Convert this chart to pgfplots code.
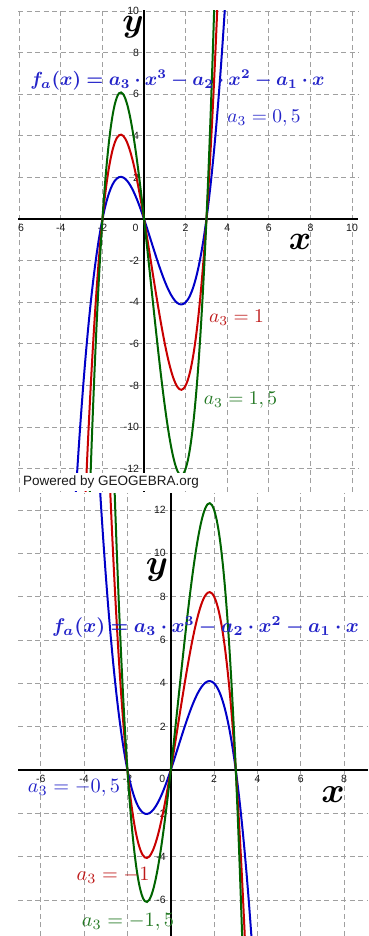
\documentclass[border=0pt]{standalone}
\usepackage{pgfplots}
\pgfplotsset{compat=1.18}
\usepackage{pgfplotstable}
\usepackage{amsmath,bm}
\usepackage{graphicx}
\usepackage{fontspec}
\newfontfamily\ggbsans{Liberation Sans}

\definecolor{cblue}{RGB}{0,0,200}
\definecolor{cred}{RGB}{200,0,0}
\definecolor{cgreen}{RGB}{0,100,0}
\definecolor{tblue}{RGB}{35,35,200}
\definecolor{tred}{RGB}{190,25,25}
\definecolor{tgreen}{RGB}{35,120,35}
\definecolor{gridgray}{RGB}{160,160,160}
\definecolor{ticktext}{RGB}{25,25,25}

% f(x) = a3*x^3 - a2*x^2 - a1*x with zeros at -2, 0, 3, for a3 = 0.5, 1, 1.5 and their negatives
\pgfplotstableread{
x    p05     p1      p15     n05     n1      n15
-3.4 -15.232 -30.464 -45.696 15.232  30.464  45.696
-3.3 -13.514 -27.027 -40.541 13.514  27.027  40.541
-3.2 -11.904 -23.808 -35.712 11.904  23.808  35.712
-3.1 -10.401 -20.801 -31.202 10.401  20.801  31.202
-3.0 -9.000  -18.000 -27.000 9.000   18.000  27.000
-2.9 -7.700  -15.399 -23.099 7.700   15.399  23.099
-2.8 -6.496  -12.992 -19.488 6.496   12.992  19.488
-2.7 -5.387  -10.773 -16.160 5.387   10.773  16.160
-2.6 -4.368  -8.736  -13.104 4.368   8.736   13.104
-2.5 -3.438  -6.875  -10.313 3.438   6.875   10.313
-2.4 -2.592  -5.184  -7.776  2.592   5.184   7.776
-2.3 -1.829  -3.657  -5.486  1.829   3.657   5.486
-2.2 -1.144  -2.288  -3.432  1.144   2.288   3.432
-2.1 -0.536  -1.071  -1.607  0.536   1.071   1.607
-2.0 0       0       0       0       0       0
-1.9 0.466   0.931   1.397   -0.466  -0.931  -1.397
-1.8 0.864   1.728   2.592   -0.864  -1.728  -2.592
-1.7 1.199   2.397   3.596   -1.199  -2.397  -3.596
-1.6 1.472   2.944   4.416   -1.472  -2.944  -4.416
-1.5 1.688   3.375   5.063   -1.688  -3.375  -5.063
-1.4 1.848   3.696   5.544   -1.848  -3.696  -5.544
-1.3 1.957   3.913   5.870   -1.957  -3.913  -5.870
-1.2 2.016   4.032   6.048   -2.016  -4.032  -6.048
-1.1 2.030   4.059   6.089   -2.030  -4.059  -6.089
-1.0 2.000   4.000   6.000   -2.000  -4.000  -6.000
-0.9 1.931   3.861   5.792   -1.931  -3.861  -5.792
-0.8 1.824   3.648   5.472   -1.824  -3.648  -5.472
-0.7 1.684   3.367   5.051   -1.684  -3.367  -5.051
-0.6 1.512   3.024   4.536   -1.512  -3.024  -4.536
-0.5 1.313   2.625   3.938   -1.313  -2.625  -3.938
-0.4 1.088   2.176   3.264   -1.088  -2.176  -3.264
-0.3 0.842   1.683   2.525   -0.842  -1.683  -2.525
-0.2 0.576   1.152   1.728   -0.576  -1.152  -1.728
-0.1 0.295   0.589   0.884   -0.295  -0.589  -0.884
0.0  0       0       0       0       0       0
0.1  -0.305  -0.609  -0.914  0.305   0.609   0.914
0.2  -0.616  -1.232  -1.848  0.616   1.232   1.848
0.3  -0.932  -1.863  -2.795  0.932   1.863   2.795
0.4  -1.248  -2.496  -3.744  1.248   2.496   3.744
0.5  -1.563  -3.125  -4.688  1.563   3.125   4.688
0.6  -1.872  -3.744  -5.616  1.872   3.744   5.616
0.7  -2.174  -4.347  -6.521  2.174   4.347   6.521
0.8  -2.464  -4.928  -7.392  2.464   4.928   7.392
0.9  -2.741  -5.481  -8.222  2.741   5.481   8.222
1.0  -3.000  -6.000  -9.000  3.000   6.000   9.000
1.1  -3.240  -6.479  -9.719  3.240   6.479   9.719
1.2  -3.456  -6.912  -10.368 3.456   6.912   10.368
1.3  -3.647  -7.293  -10.940 3.647   7.293   10.940
1.4  -3.808  -7.616  -11.424 3.808   7.616   11.424
1.5  -3.938  -7.875  -11.813 3.938   7.875   11.813
1.6  -4.032  -8.064  -12.096 4.032   8.064   12.096
1.7  -4.089  -8.177  -12.266 4.089   8.177   12.266
1.8  -4.104  -8.208  -12.312 4.104   8.208   12.312
1.9  -4.076  -8.151  -12.227 4.076   8.151   12.227
2.0  -4.000  -8.000  -12.000 4.000   8.000   12.000
2.1  -3.875  -7.749  -11.624 3.875   7.749   11.624
2.2  -3.696  -7.392  -11.088 3.696   7.392   11.088
2.3  -3.462  -6.923  -10.385 3.462   6.923   10.385
2.4  -3.168  -6.336  -9.504  3.168   6.336   9.504
2.5  -2.813  -5.625  -8.438  2.813   5.625   8.438
2.6  -2.392  -4.784  -7.176  2.392   4.784   7.176
2.7  -1.904  -3.807  -5.711  1.904   3.807   5.711
2.8  -1.344  -2.688  -4.032  1.344   2.688   4.032
2.9  -0.711  -1.421  -2.132  0.711   1.421   2.132
3.0  0       0       0       0       0       0
3.1  0.791   1.581   2.372   -0.791  -1.581  -2.372
3.2  1.664   3.328   4.992   -1.664  -3.328  -4.992
3.3  2.624   5.247   7.871   -2.624  -5.247  -7.871
3.4  3.672   7.344   11.016  -3.672  -7.344  -11.016
3.5  4.813   9.625   14.438  -4.813  -9.625  -14.438
3.6  6.048   12.096  18.144  -6.048  -12.096 -18.144
3.7  7.382   14.763  22.145  -7.382  -14.763 -22.145
3.8  8.816   17.632  26.448  -8.816  -17.632 -26.448
3.9  10.355  20.709  31.064  -10.355 -20.709 -31.064
4.0  12.000  24.000  36.000  -12.000 -24.000 -36.000
}\cubic

\pgfplotsset{
  ggb/.style={
    anchor=south west,
    axis lines=middle,
    axis line style={-, black, line width=2.4pt},
    grid=major,
    major grid style={gridgray, line width=0.9pt, dash pattern=on 5pt off 3.5pt},
    major tick length=0pt,
    ticklabel style={font=\ggbsans\fontsize{10.5}{11}\selectfont, text=ticktext},
    xticklabel style={anchor=north, yshift=-2pt},
    yticklabel style={anchor=east, xshift=-1.5pt},
    clip=true,
    every axis plot/.append style={line width=2pt, smooth, no markers},
  }
}

\begin{document}
\begin{tikzpicture}[x=1pt, y=1pt]
\useasboundingbox (0,0) rectangle (368,936);

% upper view: a3 = 0.5, 1, 1.5
\begin{axis}[ggb, at={(18pt,444pt)}, x=20.8pt, y=20.8pt,
  xmin=-6.06, xmax=10.29, ymin=-13.12, ymax=10.05,
  xtick={-6,-4,-2,2,4,6,8,10},
  xticklabels={\hphantom{-}6,-4,-2,2,4,6,8,10},
  ytick={-12,-10,-8,-6,-4,-2,2,4,6,8,10},
  yticklabels={-12,-10,-8,-6,-4,-2,2,4,6,8,10}]
  \addplot[cblue]  table[x=x, y=p05] {\cubic};
  \addplot[cred]   table[x=x, y=p1]  {\cubic};
  \addplot[cgreen] table[x=x, y=p15] {\cubic};
  \node[font=\ggbsans\fontsize{10.5}{11}\selectfont, text=ticktext, anchor=north east]
    at (axis cs:0,0) [xshift=-2pt, yshift=-2pt] {0};
\end{axis}

% lower view: a3 = -0.5, -1, -1.5
\begin{axis}[ggb, at={(18pt,0pt)}, x=21.67pt, y=21.67pt,
  xmin=-7.05, xmax=9.1, ymin=-7.66, ymax=12.78,
  xtick={-6,-4,-2,2,4,6,8},
  xticklabels={-6,-4,-2,2,4,6,8},
  ytick={-6,-4,-2,2,4,6,8,10,12},
  yticklabels={-6,-4,-2,2,4,6,8,10,12}]
  \addplot[cblue]  table[x=x, y=n05] {\cubic};
  \addplot[cred]   table[x=x, y=n1]  {\cubic};
  \addplot[cgreen] table[x=x, y=n15] {\cubic};
  \node[font=\ggbsans\fontsize{10.5}{11}\selectfont, text=ticktext, anchor=north east]
    at (axis cs:0,0) [xshift=-2pt, yshift=-2pt] {0};
\end{axis}

% applet footer
\fill[white] (21,445) rectangle (203,463);
\node[font=\ggbsans\fontsize{13.5}{14}\selectfont, text=ticktext] at (111,454) {Powered by GEOGEBRA.org};

% labels of the upper view
\node[text=tblue] at (177.5,856) {\scalebox{1.9}{$\boldsymbol{f_a(x) = a_3 \cdot x^3 - a_2 \cdot x^2 - a_1 \cdot x}$}};
\node[text=tblue] at (264,818) {\scalebox{1.95}{$a_3 = 0,5$}};
\node[text=tred] at (236.5,618) {\scalebox{1.95}{$a_3 = 1$}};
\node[text=tgreen] at (240.5,536) {\scalebox{1.95}{$a_3 = 1,5$}};
\node at (133,909) {\scalebox{3.4}{$\boldsymbol{y}$}};
\node at (300,694) {\scalebox{3.4}{$\boldsymbol{x}$}};

% labels of the lower view
\node[text=tblue] at (205.5,309) {\scalebox{1.98}{$\boldsymbol{f_a(x) = a_3 \cdot x^3 - a_2 \cdot x^2 - a_1 \cdot x}$}};
\node[text=tblue] at (74,148) {\scalebox{2.03}{$a_3 = -0,5$}};
\node[text=tred] at (113,61) {\scalebox{2.03}{$a_3 = -1$}};
\node[text=tgreen] at (128,14) {\scalebox{2.03}{$a_3 = -1,5$}};
\node at (157,366) {\scalebox{3.55}{$\boldsymbol{y}$}};
\node at (333,141) {\scalebox{3.55}{$\boldsymbol{x}$}};
\end{tikzpicture}
\end{document}
